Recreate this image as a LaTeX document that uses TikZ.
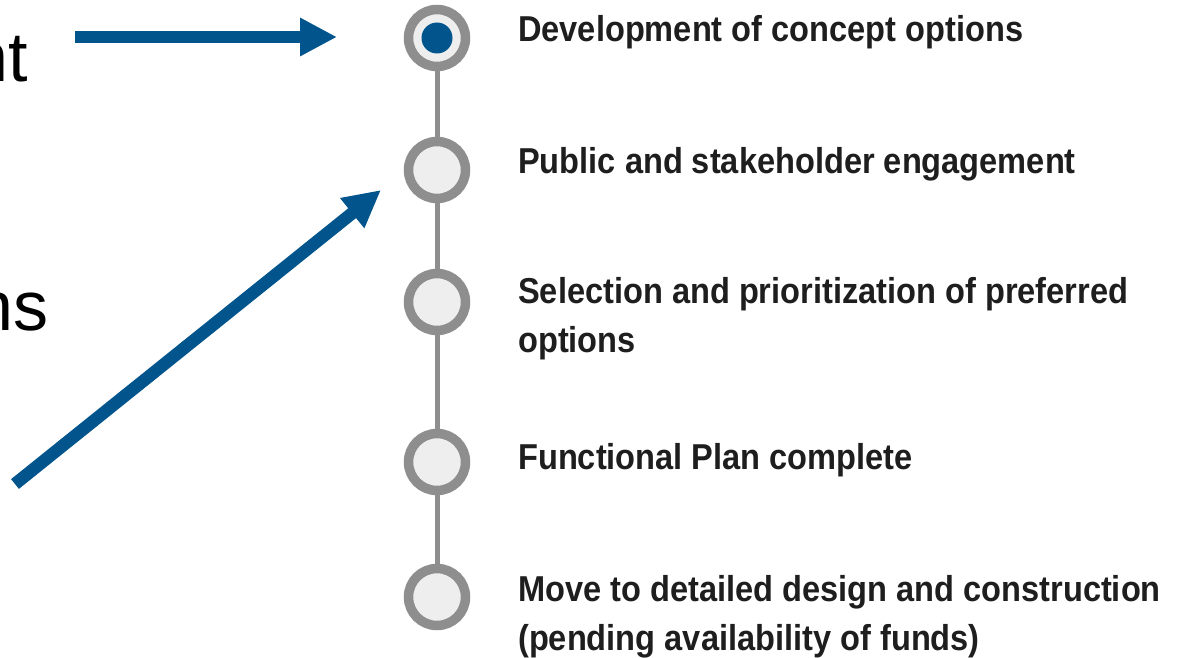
\documentclass[tikz,border=0pt]{standalone}
\usepackage{fontspec}
\setmainfont{Liberation Sans}
\newfontfamily\stepfont[FakeStretch=0.905]{Liberation Sans}
\usetikzlibrary{arrows.meta}
\definecolor{arrowblue}{RGB}{2,85,140}
\definecolor{ringgray}{RGB}{142,142,142}
\definecolor{innergray}{RGB}{238,238,238}
\definecolor{textdark}{RGB}{30,30,30}
\begin{document}
\begin{tikzpicture}[x=1pt,y=-1pt,
  ringnode/.style={circle,draw=ringgray,line width=9.5pt,fill=innergray,minimum size=57pt,inner sep=0pt,outer sep=0pt},
  dotnode/.style={circle,fill=arrowblue,minimum size=31pt,inner sep=0pt},
  linkline/.style={ringgray,line width=5pt},
  steptext/.style={anchor=base west,inner sep=0pt,text=textdark,align=left,
    font=\stepfont\bfseries\fontsize{36}{49}\selectfont},
  bigtext/.style={anchor=base east,inner sep=0pt,text=black,font=\fontsize{70}{80}\selectfont},
  bluearrow/.style={arrowblue,line width=12.5pt,-{Triangle[length=37pt,width=36pt]}}
]
\useasboundingbox (0,0) rectangle (1186,658);
\clip (0,0) rectangle (1186,658);

% timeline circles
\node[ringnode] (c1) at (437,38) {};
\node[dotnode] (d1) at (437,38) {};
\node[ringnode] (c2) at (437,170) {};
\node[ringnode] (c3) at (437,302) {};
\node[ringnode] (c4) at (437,462) {};
\node[ringnode] (c5) at (437,597) {};

% connectors
\draw[linkline] (c1.south) -- (c2.north);
\draw[linkline] (c2.south) -- (c3.north);
\draw[linkline] (c3.south) -- (c4.north);
\draw[linkline] (c4.south) -- (c5.north);

% step labels (base anchor of a two-line node is the last line's baseline)
\node[steptext] (t1) at (518,42) {Development of concept options};
\node[steptext] (t2) at (518,173) {Public and stakeholder engagement};
\node[steptext] (t3) at (518,352) {Selection and prioritization of preferred\\options};
\node[steptext] (t4) at (518,469) {Functional Plan complete};
\node[steptext] (t5) at (518,650) {Move to detailed design and construction\\(pending availability of funds)};

% cut-off left texts
\node[bigtext] (l1) at (28,82) {nt};
\node[bigtext] (l2) at (49,330) {ns};

% arrows
\coordinate (a1s) at (75,37);
\coordinate (a1e) at (337,37);
\coordinate (a2s) at (15,484);
\coordinate (a2e) at (381,190);
\draw[bluearrow] (a1s) -- (a1e);
\draw[bluearrow] (a2s) -- (a2e);
\end{tikzpicture}
\end{document}
